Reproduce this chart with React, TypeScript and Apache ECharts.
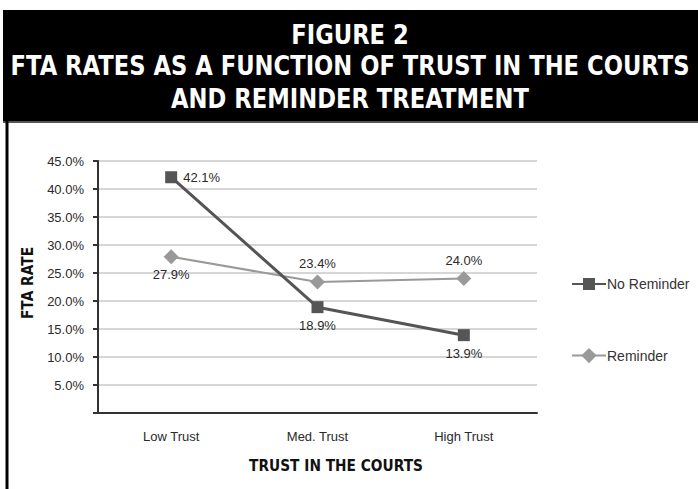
import React, { useEffect, useRef } from "react";
import * as echarts from "echarts";

const categories = ["Low Trust", "Med. Trust", "High Trust"];
const noReminder = [42.1, 18.9, 13.9];
const reminder = [27.9, 23.4, 24.0];
const titleLines = [
  "FIGURE 2",
  "FTA RATES AS A FUNCTION OF TRUST IN THE COURTS",
  "AND REMINDER TREATMENT",
];

const noRemLabelPos = ["right", "bottom", "bottom"];
const remLabelPos = ["bottom", "top", "top"];

const TITLE_FONT = "'DejaVu Sans', sans-serif";
const BODY_FONT = "'Liberation Sans', Arial, sans-serif";

export default function App() {
  const ref = useRef<HTMLDivElement>(null);
  useEffect(() => {
    if (!ref.current) return;
    const chart = echarts.init(ref.current, undefined, { renderer: "svg" });
    const titleY = [35, 66, 99];
    chart.setOption({
      animation: false,
      backgroundColor: "#ffffff",
      graphic: [
        { type: "rect", shape: { x: 3, y: 10, width: 695, height: 111 }, style: { fill: "#000" }, z: 0 },
        { type: "line", shape: { x1: 3, y1: 122, x2: 698, y2: 122 }, style: { stroke: "#555", lineWidth: 2 } },
        { type: "line", shape: { x1: 7, y1: 121, x2: 7, y2: 489 }, style: { stroke: "#000", lineWidth: 3 } },
        ...titleLines.map((t, i) => ({
          type: "text",
          x: 350,
          y: titleY[i],
          scaleX: 0.84,
          style: {
            text: t,
            fill: "#fff",
            font: `bold 27px ${TITLE_FONT}`,
            textAlign: "center",
            textVerticalAlign: "middle",
          },
          z: 10,
        })),
        {
          type: "text",
          x: 336,
          y: 466,
          scaleX: 0.86,
          style: {
            text: "TRUST IN THE COURTS",
            fill: "#111",
            font: `bold 16px ${TITLE_FONT}`,
            textAlign: "center",
            textVerticalAlign: "middle",
          },
        },
        {
          type: "text",
          x: 28,
          y: 283,
          rotation: Math.PI / 2,
          scaleX: 0.86,
          style: {
            text: "FTA RATE",
            fill: "#111",
            font: `bold 16px ${TITLE_FONT}`,
            textAlign: "center",
            textVerticalAlign: "middle",
          },
        },
      ],
      grid: { left: 98, right: 161, top: 161, bottom: 76, containLabel: false },
      legend: [
        {
          data: ["No Reminder"],
          orient: "vertical",
          left: 566,
          top: 272,
          itemWidth: 34,
          itemHeight: 15,
          textStyle: { fontFamily: BODY_FONT, fontSize: 14, color: "#333", padding: [0, 0, 0, -4] },
        },
        {
          data: ["Reminder"],
          orient: "vertical",
          left: 566,
          top: 343,
          itemWidth: 34,
          itemHeight: 19,
          textStyle: { fontFamily: BODY_FONT, fontSize: 14, color: "#333", padding: [0, 0, 0, -4] },
        },
      ],
      xAxis: {
        type: "category",
        data: categories,
        boundaryGap: true,
        axisLine: { lineStyle: { color: "#333", width: 2 } },
        axisTick: { alignWithLabel: true, length: 7, lineStyle: { color: "#333", width: 2 } },
        axisLabel: { fontFamily: BODY_FONT, fontSize: 13, color: "#2a2a2a", margin: 17 },
      },
      yAxis: {
        type: "value",
        min: 0,
        max: 45,
        interval: 5,
        axisLine: { show: true, lineStyle: { color: "#333", width: 2 } },
        axisTick: { show: true, length: 5, lineStyle: { color: "#333", width: 2 } },
        axisLabel: {
          fontFamily: BODY_FONT,
          fontSize: 13,
          color: "#2a2a2a",
          margin: 14,
          formatter: (v: number) => (v === 0 ? "" : v.toFixed(1) + "%"),
        },
        splitLine: { lineStyle: { color: "#c8c8c8", width: 1.5 } },
      },
      series: [
        {
          name: "No Reminder",
          type: "line",
          data: noReminder.map((v, i) => ({
            value: v,
            label: { position: noRemLabelPos[i] },
          })),
          symbol: "rect",
          symbolSize: 12,
          color: "#555",
          lineStyle: { color: "#555", width: 3 },
          itemStyle: { color: "#555" },
          label: {
            show: true,
            distance: 6,
            fontFamily: BODY_FONT,
            fontSize: 13,
            color: "#2a2a2a",
            formatter: (p: any) => p.value.toFixed(1) + "%",
          },
          z: 3,
        },
        {
          name: "Reminder",
          type: "line",
          data: reminder.map((v, i) => ({
            value: v,
            label: { position: remLabelPos[i] },
          })),
          symbol: "diamond",
          symbolSize: 15,
          color: "#999",
          lineStyle: { color: "#999", width: 2 },
          itemStyle: { color: "#999" },
          label: {
            show: true,
            distance: 4,
            fontFamily: BODY_FONT,
            fontSize: 13,
            color: "#2a2a2a",
            formatter: (p: any) => p.value.toFixed(1) + "%",
          },
          z: 2,
        },
      ],
    });
    return () => chart.dispose();
  }, []);
  return <div ref={ref} style={{ width: 698, height: 489, position: "absolute", left: 0, top: 0 }} />;
}
